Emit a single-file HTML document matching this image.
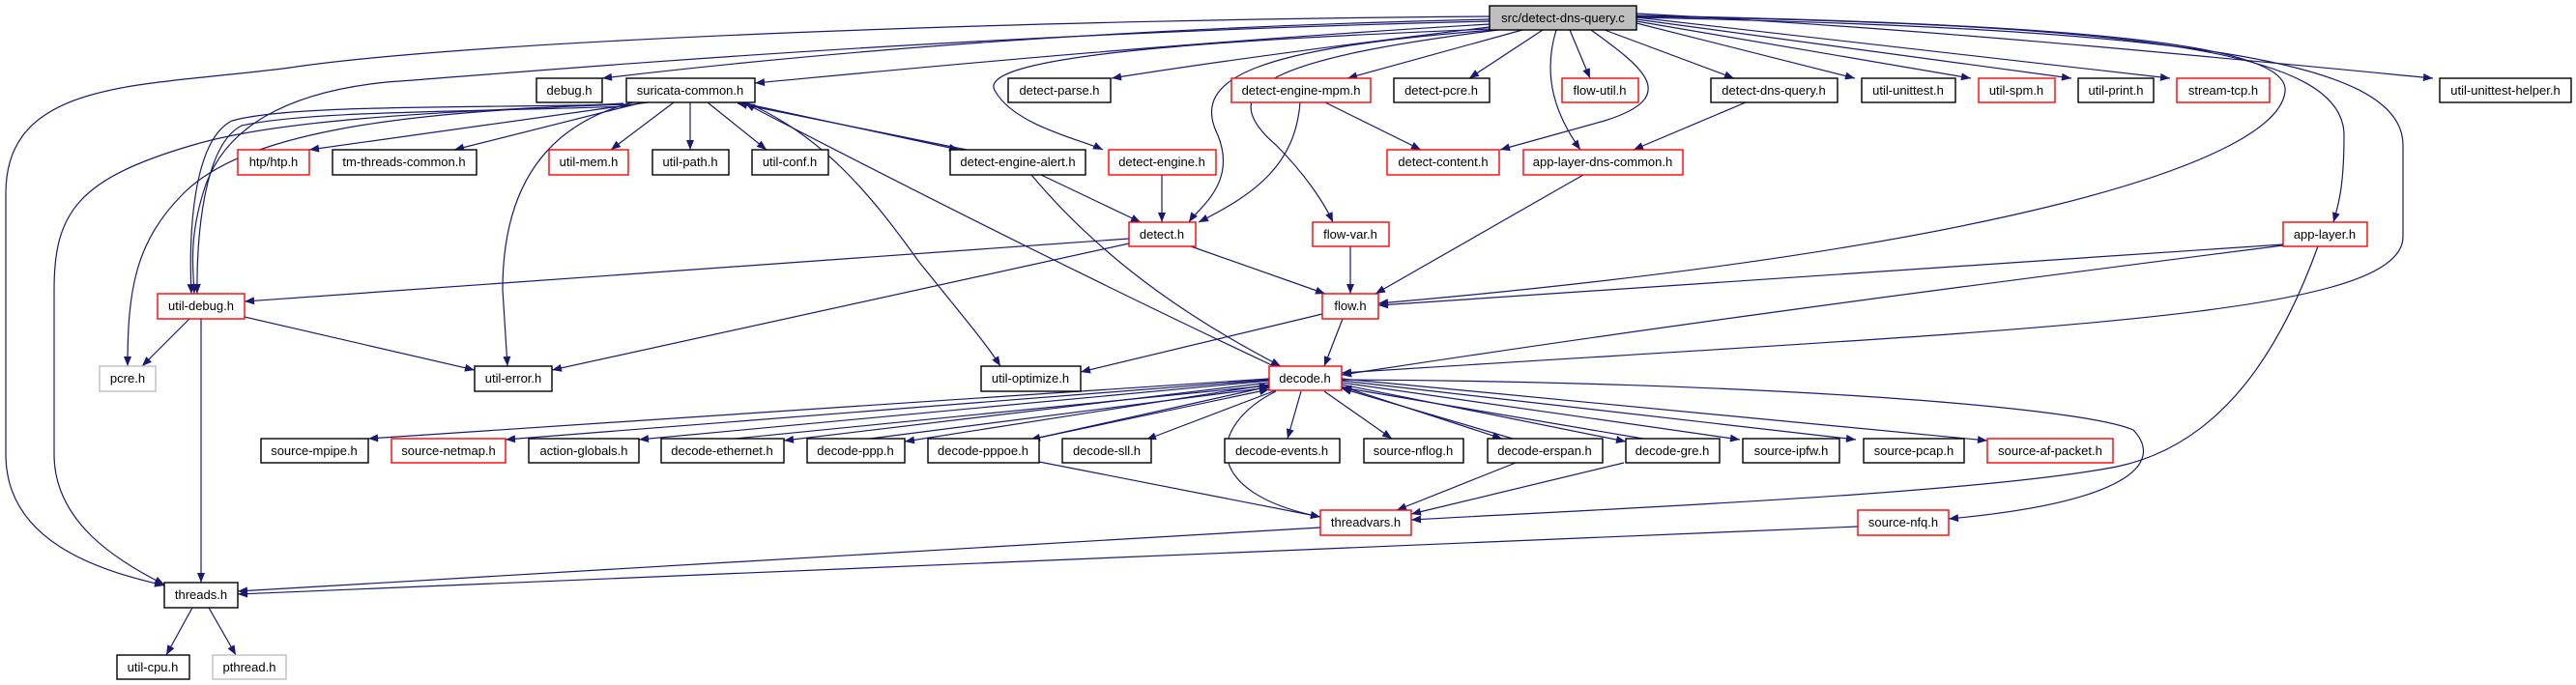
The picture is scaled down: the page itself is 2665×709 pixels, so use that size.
<!DOCTYPE html>
<html><head><meta charset="utf-8"><style>
html,body{margin:0;padding:0;background:#fff}
svg{display:block}
text{font-family:"Liberation Sans",sans-serif;font-size:13px;fill:#000}
</style></head><body>
<svg width="2665" height="709" viewBox="0 0 2665 709" xmlns="http://www.w3.org/2000/svg">
<defs>
<marker id="a" viewBox="0 0 10 8" refX="10" refY="4" markerWidth="11" markerHeight="8" markerUnits="userSpaceOnUse" orient="auto"><path d="M0,0 L10,4 L0,8 z" fill="#191970"/></marker>
</defs>
<g fill="none" stroke="#191970" stroke-width="1.2" marker-end="url(#a)">
<path d="M1541,17 C1100,20 500,40 300,70 C150,90 6,80 6,200 L6,470 C6,560 100,590 170,606"/>
<path d="M1541,22 C1000,35 600,70 400,85 C300,95 230,130 210,200 C195,250 200,280 201,304"/>
<path d="M1541,20 C1100,30 800,60 623,81"/>
<path d="M1541,25 C1200,45 900,75 781,86"/>
<path d="M1541,28 C1400,45 1250,65 1150,81"/>
<path d="M1541,30 C1300,40 1000,55 1030,95 C1050,130 1120,145 1141,155"/>
<path d="M1545,31 C1300,50 1230,80 1260,140 C1280,190 1240,215 1230,230"/>
<path d="M1550,31 C1320,60 1250,90 1320,150 C1350,180 1370,210 1379,230"/>
<path d="M1575,31 L1394,81"/>
<path d="M1596,31 L1520,81"/>
<path d="M1610,31 C1595,80 1610,120 1635,155"/>
<path d="M1624,31 L1645,81"/>
<path d="M1646,31 C1700,70 1740,100 1660,125 L1552,155"/>
<path d="M1660,31 L1794,81"/>
<path d="M1693,24 L1919,81"/>
<path d="M1693,22 L2039,81"/>
<path d="M1693,20 L2143,81"/>
<path d="M1693,18 L2245,81"/>
<path d="M1693,14 C2000,30 2300,60 2517,81"/>
<path d="M1693,16 C2150,25 2370,45 2364,95 C2355,170 2050,260 1426,314"/>
<path d="M1693,17 C2200,25 2425,50 2425,140 C2425,190 2420,210 2414,230"/>
<path d="M1693,18 C2250,30 2486,60 2486,150 L2486,245 C2486,330 2100,340 1388,386"/>
<path d="M670,106 L320,155"/>
<path d="M665,106 L470,155"/>
<path d="M697,106 L632,155"/>
<path d="M714,106 L714,155"/>
<path d="M732,106 L793,155"/>
<path d="M648,108 C480,112 300,108 240,125 C200,145 195,240 198,304"/>
<path d="M648,110 C500,116 320,114 250,130 C210,150 203,250 204,304"/>
<path d="M645,107 C500,115 300,120 200,150 C80,185 56,220 56,300 L56,470 C56,540 120,580 170,605"/>
<path d="M650,108 C400,115 250,140 190,200 C140,250 132,300 132,379"/>
<path d="M655,106 C560,130 520,200 520,300 L525,379"/>
<path d="M772,106 C850,140 900,200 950,270 C990,320 1020,355 1035,379"/>
<path d="M765,106 L992,155"/>
<path d="M1000,155 L763,107"/>
<path d="M1320,380 C1150,300 950,200 771,107"/>
<path d="M196,330 L147,379"/>
<path d="M208,330 L208,603"/>
<path d="M253,328 L491,383"/>
<path d="M1168,247 L253,312"/>
<path d="M1168,252 L571,383"/>
<path d="M1232,255 L1371,304"/>
<path d="M1077,181 L1180,230"/>
<path d="M1067,181 C1150,280 1250,340 1325,379"/>
<path d="M1202,181 L1202,230"/>
<path d="M1371,106 L1470,155"/>
<path d="M1345,106 C1340,170 1300,200 1240,230"/>
<path d="M1806,106 L1690,155"/>
<path d="M1638,181 L1423,304"/>
<path d="M1397,255 L1397,304"/>
<path d="M1368,325 L1118,385"/>
<path d="M1389,330 L1370,379"/>
<path d="M2362,253 C2000,280 1700,300 1426,316"/>
<path d="M2362,254 C2000,300 1700,340 1388,388"/>
<path d="M2398,255 C2360,360 2300,460 2190,483 C2050,510 1700,525 1460,538"/>
<path d="M1388,393 C1800,395 2150,420 2207,445 C2240,480 2200,520 2016,537"/>
<path d="M1313,392 L381,454"/>
<path d="M1313,393 L523,455"/>
<path d="M1313,394 L661,455"/>
<path d="M1313,396 L811,456"/>
<path d="M1313,398 L936,457"/>
<path d="M1313,400 L1066,455"/>
<path d="M1320,404 L1186,455"/>
<path d="M1346,405 L1332,454"/>
<path d="M1370,405 L1440,454"/>
<path d="M1388,400 L1554,454"/>
<path d="M1388,398 L1682,457"/>
<path d="M1388,396 L1800,455"/>
<path d="M1388,394 L1920,455"/>
<path d="M1388,392 L2056,456"/>
<path d="M760,454 L1313,399"/>
<path d="M900,454 L1313,401"/>
<path d="M1070,454 L1313,403"/>
<path d="M1565,454 L1388,402"/>
<path d="M1700,454 L1388,401"/>
<path d="M1320,405 C1250,440 1240,510 1366,535"/>
<path d="M1075,478 L1366,535"/>
<path d="M1568,479 L1445,528"/>
<path d="M1680,479 L1460,532"/>
<path d="M1366,546 L246,612"/>
<path d="M1922,545 L246,615"/>
<path d="M199,629 L172,678"/>
<path d="M216,629 L244,678"/>
</g>
<g stroke-width="1.4" fill="#fff">
<rect x="1541" y="6" width="152" height="25" fill="#bfbfbf" stroke="#000"/>
<rect x="555" y="81" width="68" height="25" stroke="#000"/>
<rect x="648" y="81" width="133" height="25" stroke="#000"/>
<rect x="1043" y="81" width="106" height="25" stroke="#000"/>
<rect x="1274" y="81" width="144" height="25" stroke="#f00"/>
<rect x="1442" y="81" width="99" height="25" stroke="#000"/>
<rect x="1616" y="81" width="79" height="25" stroke="#f00"/>
<rect x="1770" y="81" width="131" height="25" stroke="#000"/>
<rect x="1926" y="81" width="97" height="25" stroke="#000"/>
<rect x="2047" y="81" width="79" height="25" stroke="#f00"/>
<rect x="2150" y="81" width="78" height="25" stroke="#000"/>
<rect x="2252" y="81" width="96" height="25" stroke="#f00"/>
<rect x="2524" y="81" width="136" height="25" stroke="#000"/>
<rect x="246" y="155" width="74" height="26" stroke="#f00"/>
<rect x="344" y="155" width="149" height="26" stroke="#000"/>
<rect x="568" y="155" width="82" height="26" stroke="#f00"/>
<rect x="675" y="155" width="79" height="26" stroke="#000"/>
<rect x="778" y="155" width="79" height="26" stroke="#000"/>
<rect x="983" y="155" width="140" height="26" stroke="#000"/>
<rect x="1147" y="155" width="111" height="26" stroke="#f00"/>
<rect x="1435" y="155" width="116" height="26" stroke="#f00"/>
<rect x="1576" y="155" width="165" height="26" stroke="#f00"/>
<rect x="1168" y="230" width="69" height="25" stroke="#f00"/>
<rect x="1358" y="230" width="79" height="25" stroke="#f00"/>
<rect x="2362" y="230" width="87" height="25" stroke="#f00"/>
<rect x="163" y="304" width="90" height="26" stroke="#f00"/>
<rect x="1368" y="304" width="58" height="26" stroke="#f00"/>
<rect x="103" y="379" width="58" height="26" stroke="#bfbfbf"/>
<rect x="491" y="379" width="80" height="26" stroke="#000"/>
<rect x="1015" y="379" width="103" height="26" stroke="#000"/>
<rect x="1313" y="379" width="75" height="25" stroke="#f00"/>
<rect x="270" y="454" width="111" height="25" stroke="#000"/>
<rect x="405" y="454" width="118" height="25" stroke="#f00"/>
<rect x="547" y="454" width="114" height="25" stroke="#000"/>
<rect x="684" y="454" width="127" height="25" stroke="#000"/>
<rect x="835" y="454" width="101" height="25" stroke="#000"/>
<rect x="960" y="454" width="115" height="25" stroke="#000"/>
<rect x="1099" y="454" width="92" height="25" stroke="#000"/>
<rect x="1267" y="454" width="119" height="25" stroke="#000"/>
<rect x="1411" y="454" width="103" height="25" stroke="#000"/>
<rect x="1539" y="454" width="119" height="25" stroke="#000"/>
<rect x="1682" y="454" width="97" height="25" stroke="#000"/>
<rect x="1803" y="454" width="100" height="25" stroke="#000"/>
<rect x="1928" y="454" width="104" height="25" stroke="#000"/>
<rect x="2056" y="454" width="130" height="25" stroke="#f00"/>
<rect x="1366" y="528" width="94" height="26" stroke="#f00"/>
<rect x="1922" y="528" width="94" height="26" stroke="#f00"/>
<rect x="170" y="603" width="76" height="26" stroke="#000"/>
<rect x="121" y="678" width="75" height="25" stroke="#000"/>
<rect x="220" y="678" width="76" height="25" stroke="#bfbfbf"/>
</g>
<g text-anchor="middle">
<text x="1617" y="23">src/detect-dns-query.c</text>
<text x="589" y="98">debug.h</text>
<text x="714" y="98">suricata-common.h</text>
<text x="1096" y="98">detect-parse.h</text>
<text x="1346" y="98">detect-engine-mpm.h</text>
<text x="1491" y="98">detect-pcre.h</text>
<text x="1655" y="98">flow-util.h</text>
<text x="1835" y="98">detect-dns-query.h</text>
<text x="1974" y="98">util-unittest.h</text>
<text x="2086" y="98">util-spm.h</text>
<text x="2189" y="98">util-print.h</text>
<text x="2300" y="98">stream-tcp.h</text>
<text x="2592" y="98">util-unittest-helper.h</text>
<text x="283" y="172">htp/htp.h</text>
<text x="418" y="172">tm-threads-common.h</text>
<text x="609" y="172">util-mem.h</text>
<text x="714" y="172">util-path.h</text>
<text x="817" y="172">util-conf.h</text>
<text x="1053" y="172">detect-engine-alert.h</text>
<text x="1202" y="172">detect-engine.h</text>
<text x="1493" y="172">detect-content.h</text>
<text x="1658" y="172">app-layer-dns-common.h</text>
<text x="1202" y="247">detect.h</text>
<text x="1397" y="247">flow-var.h</text>
<text x="2405" y="247">app-layer.h</text>
<text x="208" y="321">util-debug.h</text>
<text x="1397" y="321">flow.h</text>
<text x="132" y="396">pcre.h</text>
<text x="531" y="396">util-error.h</text>
<text x="1066" y="396">util-optimize.h</text>
<text x="1350" y="396">decode.h</text>
<text x="325" y="471">source-mpipe.h</text>
<text x="464" y="471">source-netmap.h</text>
<text x="604" y="471">action-globals.h</text>
<text x="747" y="471">decode-ethernet.h</text>
<text x="885" y="471">decode-ppp.h</text>
<text x="1017" y="471">decode-pppoe.h</text>
<text x="1145" y="471">decode-sll.h</text>
<text x="1326" y="471">decode-events.h</text>
<text x="1462" y="471">source-nflog.h</text>
<text x="1598" y="471">decode-erspan.h</text>
<text x="1730" y="471">decode-gre.h</text>
<text x="1853" y="471">source-ipfw.h</text>
<text x="1980" y="471">source-pcap.h</text>
<text x="2121" y="471">source-af-packet.h</text>
<text x="1413" y="545">threadvars.h</text>
<text x="1969" y="545">source-nfq.h</text>
<text x="208" y="620">threads.h</text>
<text x="158" y="695">util-cpu.h</text>
<text x="258" y="695">pthread.h</text>
</g>
</svg>
</body></html>
